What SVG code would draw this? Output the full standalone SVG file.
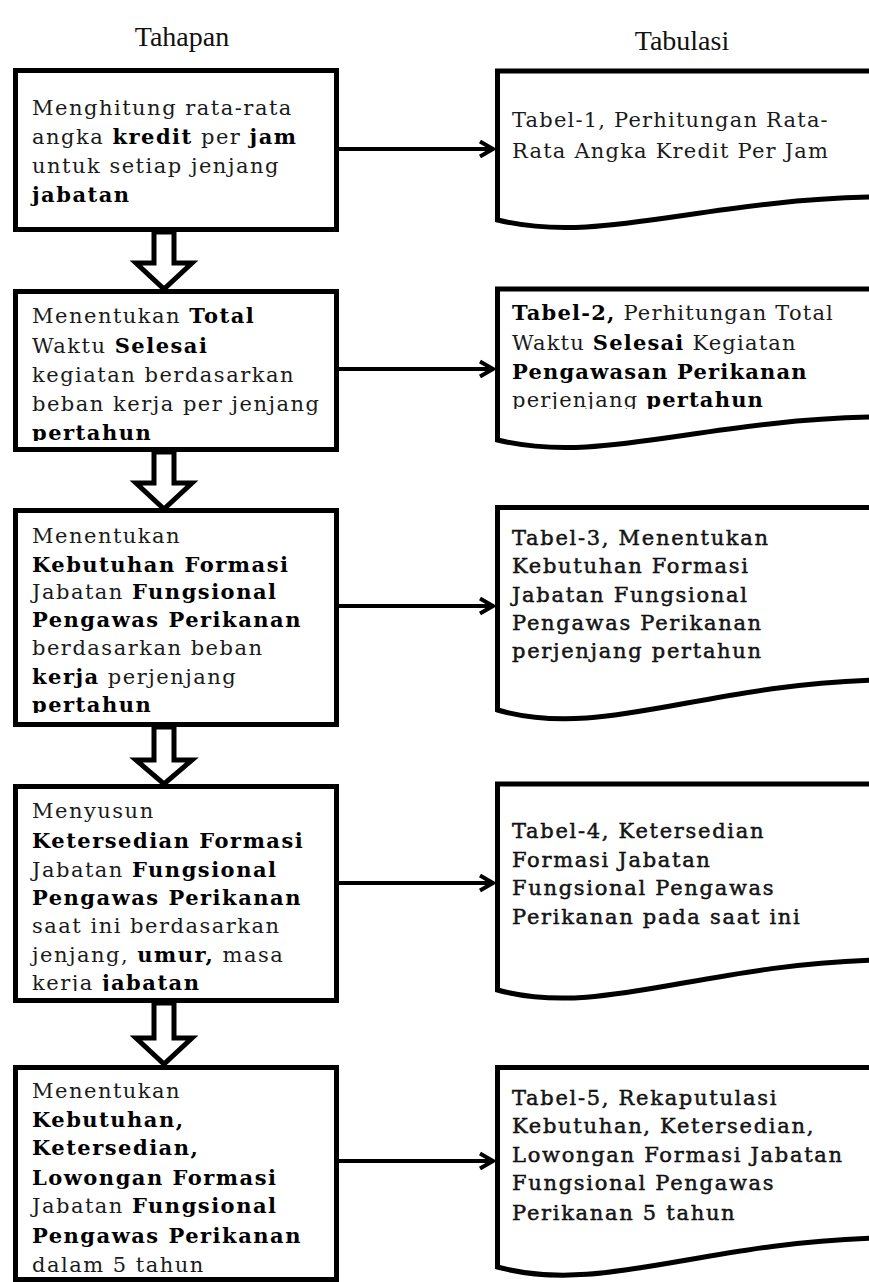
<svg xmlns="http://www.w3.org/2000/svg" width="869" height="1282" viewBox="0 0 869 1282">
<style>
.box{fill:#fff;stroke:#000;stroke-width:5}
.doc{fill:#fff;stroke:#000;stroke-width:5;stroke-linejoin:miter}
.blk{fill:#fff;stroke:#000;stroke-width:5;stroke-linejoin:miter}
.conn{fill:none;stroke:#000;stroke-width:4;marker-end:url(#chev)}
.hd{font-family:"Liberation Serif",serif;font-size:28px;fill:#111;text-anchor:middle}
.t{font-family:"DejaVu Serif",serif;font-size:21px;letter-spacing:1.5px;fill:#1a1a1a}
.d{font-family:"DejaVu Serif",serif;font-size:21px;letter-spacing:1.2px;fill:#1a1a1a}
.b{font-weight:bold;fill:#000}
.m{stroke:#000;stroke-width:0.45;letter-spacing:1.7px}
</style>
<defs>
<marker id="chev" markerUnits="userSpaceOnUse" markerWidth="20" markerHeight="20" refX="14" refY="9" orient="auto" overflow="visible">
<path d="M1,1.5 L14,9 L1,16.5" fill="none" stroke="#000" stroke-width="4"/>
</marker>
<clipPath id="c1"><rect x="18" y="73" width="316" height="154"/></clipPath>
<clipPath id="c2"><rect x="18" y="294" width="316" height="147"/></clipPath>
<clipPath id="c3"><rect x="18" y="513" width="316" height="200"/></clipPath>
<clipPath id="c4"><rect x="18" y="789" width="316" height="202"/></clipPath>
<clipPath id="c5"><rect x="18" y="1070" width="316" height="207"/></clipPath>
<clipPath id="cd2"><rect x="500" y="292" width="369" height="117"/></clipPath>
</defs>

<g id="headers">
<text class="hd" x="182" y="46">Tahapan</text>
<text class="hd" x="682" y="50">Tabulasi</text>
</g>

<g id="connectors">
<polygon class="blk" points="154,232 154,263 136,263 164,289 192,263 174,263 174,232"/>
<polygon class="blk" points="154,452 154,483 136,483 164,509 192,483 174,483 174,452"/>
<polygon class="blk" points="154,727 154,760 136,760 164,784 192,760 174,760 174,727"/>
<polygon class="blk" points="154,1003 154,1038 136,1038 164,1064 192,1038 174,1038 174,1003"/>
<line class="conn" x1="339" y1="149" x2="493" y2="149"/>
<line class="conn" x1="339" y1="369" x2="493" y2="369"/>
<line class="conn" x1="339" y1="606" x2="493" y2="606"/>
<line class="conn" x1="339" y1="883" x2="493" y2="883"/>
<line class="conn" x1="339" y1="1161" x2="493" y2="1161"/>
</g>

<g id="step1">
<rect class="box" x="15.5" y="70.5" width="321" height="159"/>
<g clip-path="url(#c1)">
<text class="t" x="32" y="115">Menghitung rata-rata</text>
<text class="t" x="32" y="144">angka <tspan class="b">kredit</tspan> per <tspan class="b">jam</tspan></text>
<text class="t" x="32" y="173">untuk setiap jenjang</text>
<text class="t" x="32" y="202"><tspan class="b">jabatan</tspan></text>
</g>
</g>

<g id="step2">
<rect class="box" x="15.5" y="291.5" width="321" height="158"/>
<g clip-path="url(#c2)">
<text class="t" x="32" y="323">Menentukan <tspan class="b">Total</tspan></text>
<text class="t" x="32" y="353">Waktu  <tspan class="b">Selesai</tspan></text>
<text class="t" x="32" y="382">kegiatan berdasarkan</text>
<text class="t" x="32" y="411">beban kerja per jenjang</text>
<text class="t" x="32" y="440"><tspan class="b">pertahun</tspan></text>
</g>
</g>

<g id="step3">
<rect class="box" x="15.5" y="510.5" width="321" height="214"/>
<g clip-path="url(#c3)">
<text class="t" x="32" y="543">Menentukan</text>
<text class="t" x="32" y="572"><tspan class="b">Kebutuhan Formasi</tspan></text>
<text class="t" x="32" y="599">Jabatan <tspan class="b">Fungsional</tspan></text>
<text class="t" x="32" y="627"><tspan class="b">Pengawas Perikanan</tspan></text>
<text class="t" x="32" y="655">berdasarkan beban</text>
<text class="t" x="32" y="684"><tspan class="b">kerja</tspan> perjenjang</text>
<text class="t" x="32" y="712"><tspan class="b">pertahun</tspan></text>
</g>
</g>

<g id="step4">
<rect class="box" x="15.5" y="786.5" width="321" height="214"/>
<g clip-path="url(#c4)">
<text class="t" x="32" y="818">Menyusun</text>
<text class="t" x="32" y="848"><tspan class="b">Ketersedian Formasi</tspan></text>
<text class="t" x="32" y="877">Jabatan <tspan class="b">Fungsional</tspan></text>
<text class="t" x="32" y="905"><tspan class="b">Pengawas Perikanan</tspan></text>
<text class="t" x="32" y="933">saat ini berdasarkan</text>
<text class="t" x="32" y="962">jenjang, <tspan class="b">umur,</tspan> masa</text>
<text class="t" x="32" y="990">kerja <tspan class="b">jabatan</tspan></text>
</g>
</g>

<g id="step5">
<rect class="box" x="15.5" y="1067.5" width="321" height="212"/>
<g clip-path="url(#c5)">
<text class="t" x="32" y="1098">Menentukan</text>
<text class="t" x="32" y="1127"><tspan class="b">Kebutuhan,</tspan></text>
<text class="t" x="32" y="1155"><tspan class="b">Ketersedian,</tspan></text>
<text class="t" x="32" y="1185"><tspan class="b">Lowongan Formasi</tspan></text>
<text class="t" x="32" y="1213">Jabatan <tspan class="b">Fungsional</tspan></text>
<text class="t" x="32" y="1243"><tspan class="b">Pengawas Perikanan</tspan></text>
<text class="t" x="32" y="1272">dalam 5 tahun</text>
</g>
</g>

<g id="tabel1">
<path class="doc" d="M875,71 L497.5,71 L497.5,220 C600,245 700,200 875,197"/>
<text class="d" x="512" y="127">Tabel-1, Perhitungan Rata-</text>
<text class="d" x="512" y="158">Rata Angka Kredit Per Jam</text>
</g>

<g id="tabel2">
<path class="doc" d="M875,289 L497.5,289 L497.5,440 C600,465 700,420 875,417"/>
<g clip-path="url(#cd2)">
<text class="d" x="512" y="320"><tspan class="b">Tabel-2,</tspan> Perhitungan Total</text>
<text class="d" x="512" y="350">Waktu <tspan class="b">Selesai</tspan> Kegiatan</text>
<text class="d" x="512" y="379"><tspan class="b">Pengawasan Perikanan</tspan></text>
<text class="d" x="512" y="407">perjenjang <tspan class="b">pertahun</tspan></text>
</g>
</g>

<g id="tabel3">
<path class="doc" d="M875,507.5 L497.5,507.5 L497.5,710 C600,740 700,685 875,680"/>
<text class="d m" x="512" y="545">Tabel-3, Menentukan</text>
<text class="d m" x="512" y="573">Kebutuhan Formasi</text>
<text class="d m" x="512" y="602">Jabatan Fungsional</text>
<text class="d m" x="512" y="630">Pengawas Perikanan</text>
<text class="d m" x="512" y="658">perjenjang pertahun</text>
</g>

<g id="tabel4">
<path class="doc" d="M875,784 L497.5,784 L497.5,990 C600,1018 700,965 875,960"/>
<text class="d m" x="512" y="838">Tabel-4, Ketersedian</text>
<text class="d m" x="512" y="867">Formasi Jabatan</text>
<text class="d m" x="512" y="895">Fungsional Pengawas</text>
<text class="d m" x="512" y="924">Perikanan pada saat ini</text>
</g>

<g id="tabel5">
<path class="doc" d="M875,1067.5 L497.5,1067.5 L497.5,1267 C600,1295 700,1243 875,1238"/>
<text class="d m" x="512" y="1105">Tabel-5, Rekaputulasi</text>
<text class="d m" x="512" y="1133">Kebutuhan, Ketersedian,</text>
<text class="d m" x="512" y="1162">Lowongan Formasi Jabatan</text>
<text class="d m" x="512" y="1190">Fungsional Pengawas</text>
<text class="d m" x="512" y="1220">Perikanan 5 tahun</text>
</g>
</svg>
